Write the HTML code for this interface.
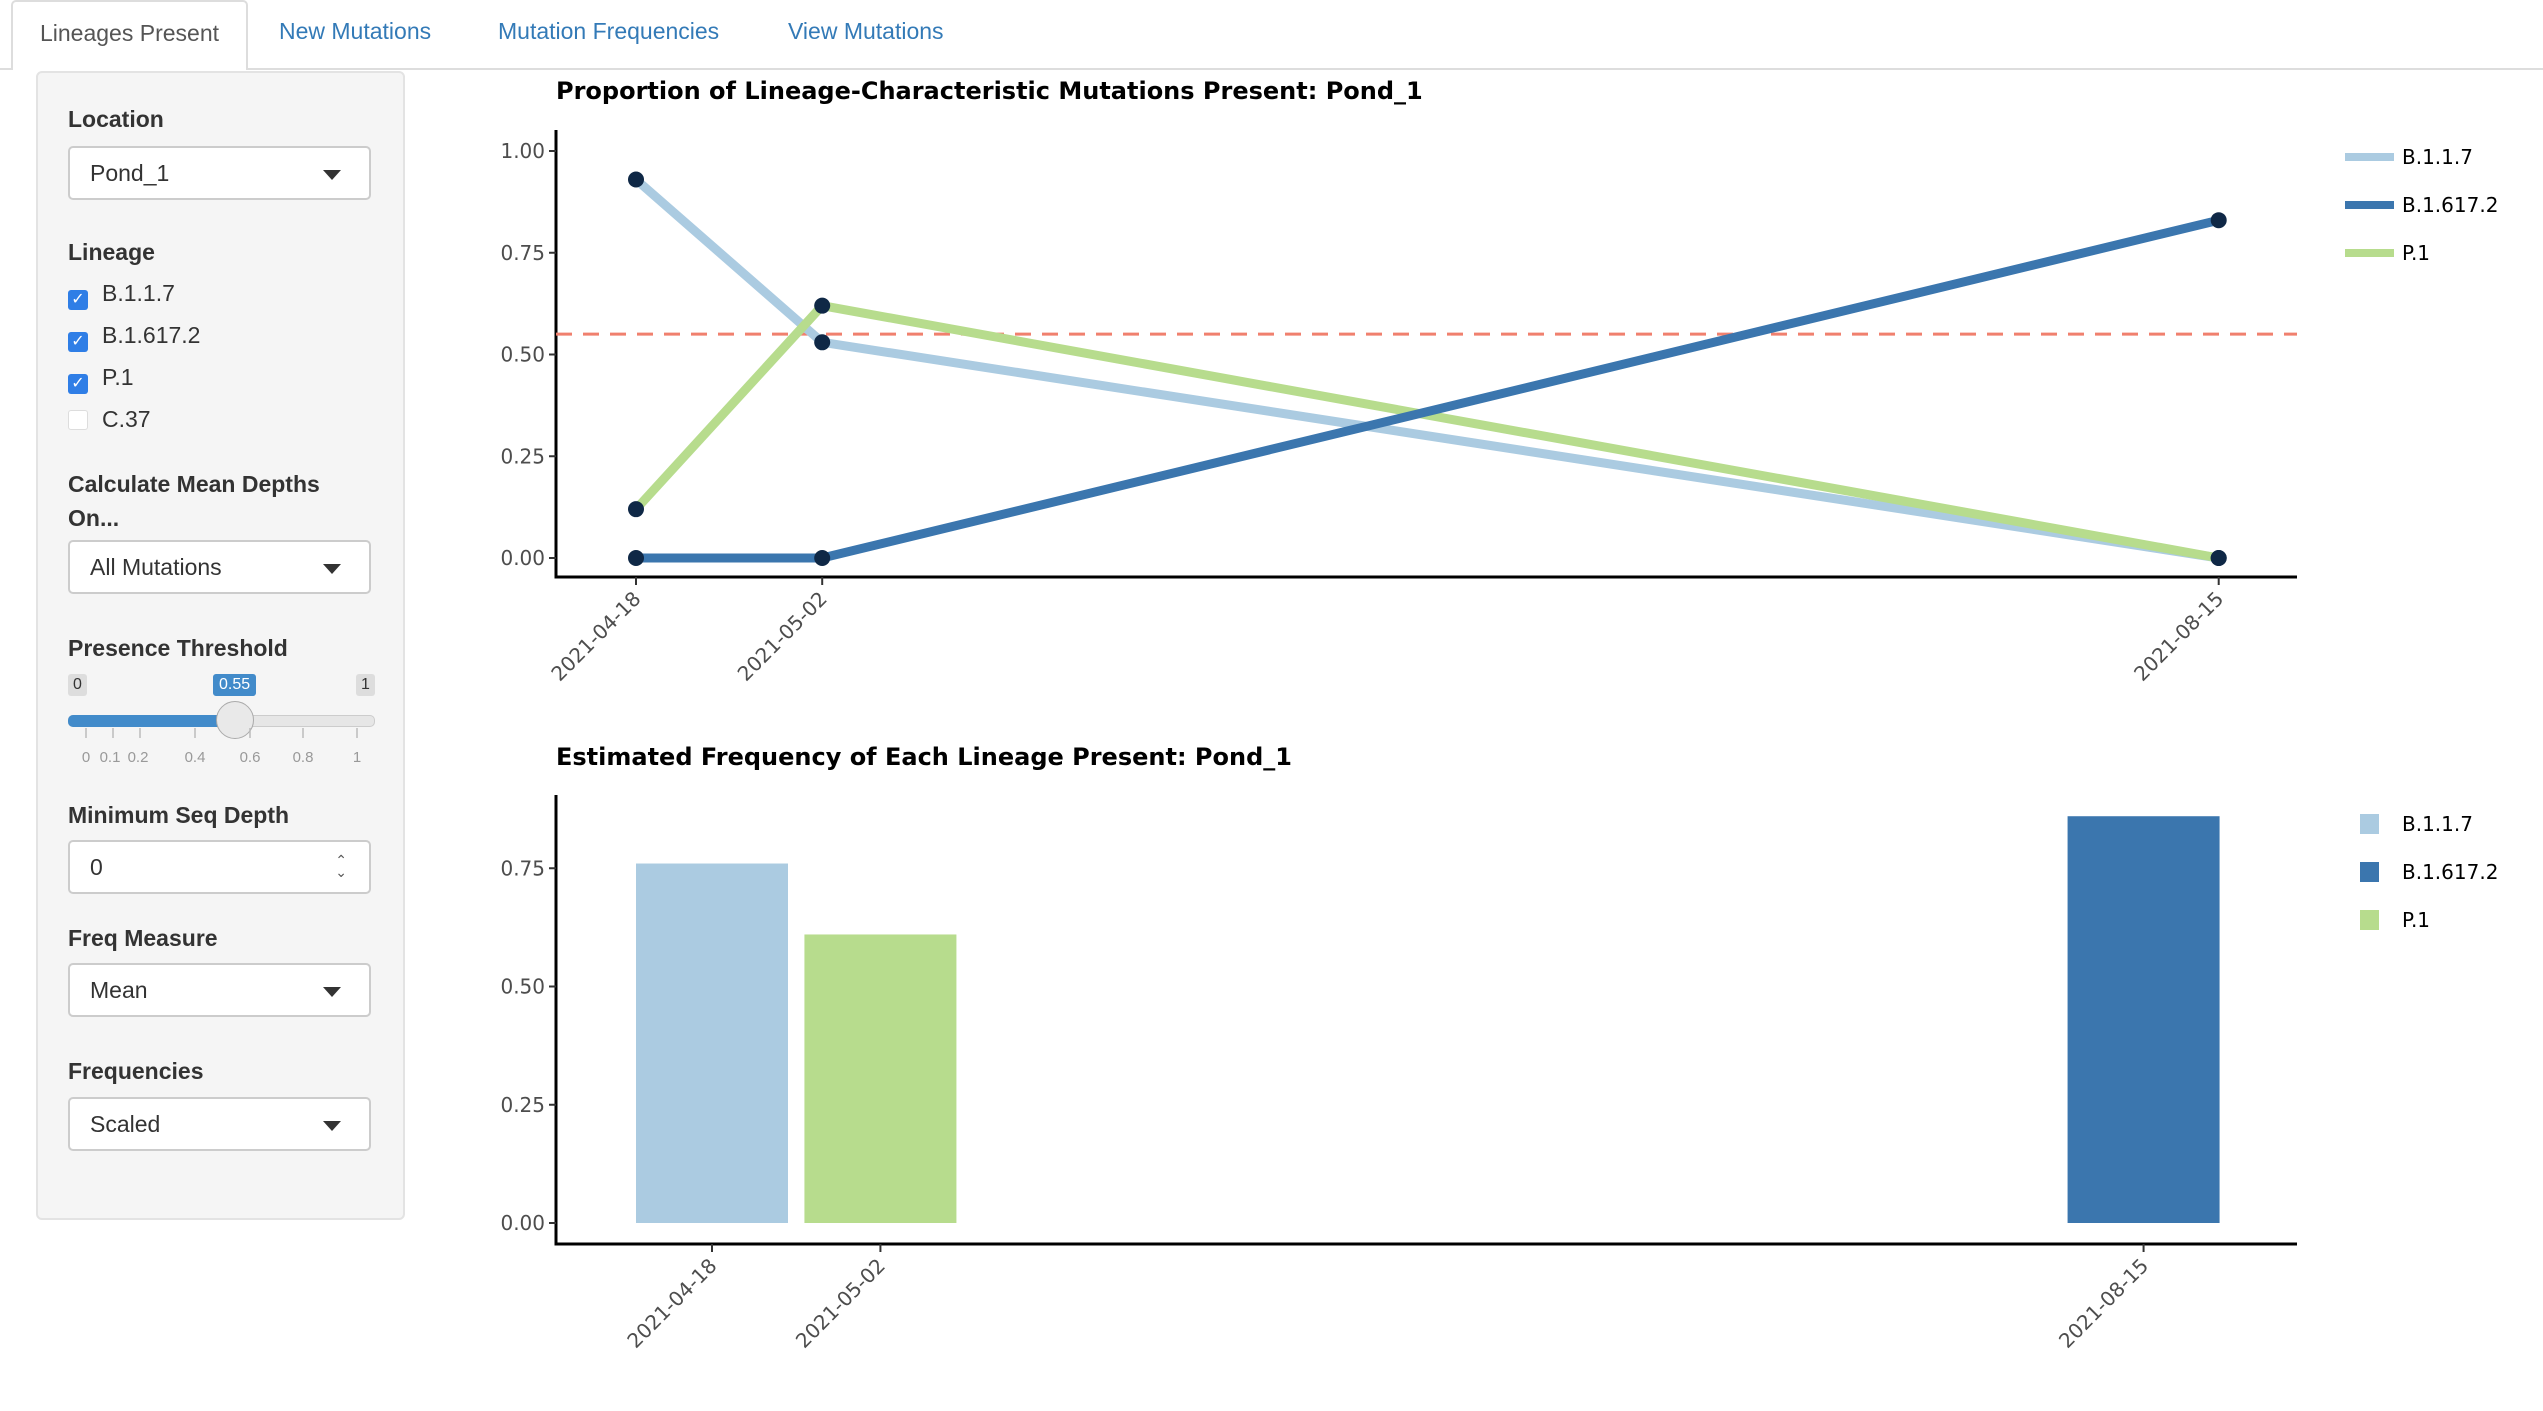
<!DOCTYPE html>
<html><head><meta charset="utf-8">
<style>
body{margin:0;width:2543px;height:1411px;background:#fff;font-family:"Liberation Sans",sans-serif;position:relative;overflow:hidden}
.abs{position:absolute}
.tab{position:absolute;top:14px;font-size:23px;color:#337ab7}
.lbl{position:absolute;left:68px;font-size:23px;font-weight:bold;color:#333}
.sel{position:absolute;left:68px;width:303px;height:54px;border:2px solid #ccc;border-radius:5px;background:#fff;box-sizing:border-box;font-size:23px;color:#333;padding:12px 0 0 20px}
.sel .car{position:absolute;right:28px;top:22px;width:0;height:0;border-left:9px solid transparent;border-right:9px solid transparent;border-top:10px solid #333}
.cb{position:absolute;left:68px;font-size:23px;color:#333}
.cb span.box{display:inline-block;width:20px;height:20px;border-radius:3px;vertical-align:-3px;margin-right:14px;background:#2f7ee6;color:#fff;font-size:16px;line-height:20px;text-align:center}
.cb span.off{background:#fff;border:1px solid #ddd;box-sizing:border-box}
</style></head><body>
<div class="abs" style="left:0;top:68px;width:2543px;height:2px;background:#ddd"></div>
<div class="abs" style="left:11px;top:0;width:237px;height:70px;border:2px solid #ddd;border-bottom:none;border-radius:5px 5px 0 0;background:#fff;box-sizing:border-box;font-size:23px;color:#555;text-align:center;padding-top:18px">Lineages Present</div>
<div class="tab" style="left:279px;top:18px">New Mutations</div>
<div class="tab" style="left:498px;top:18px">Mutation Frequencies</div>
<div class="tab" style="left:788px;top:18px">View Mutations</div>

<div class="abs" style="left:36px;top:71px;width:369px;height:1149px;background:#f5f5f5;border:2px solid #e3e3e3;border-radius:6px;box-sizing:border-box"></div>
<div class="lbl" style="top:106px">Location</div>
<div class="sel" style="top:146px">Pond_1<div class="car"></div></div>
<div class="lbl" style="top:239px">Lineage</div>
<div class="cb" style="top:280px"><span class="box">✓</span>B.1.1.7</div>
<div class="cb" style="top:322px"><span class="box">✓</span>B.1.617.2</div>
<div class="cb" style="top:364px"><span class="box">✓</span>P.1</div>
<div class="cb" style="top:406px"><span class="box off"></span>C.37</div>
<div class="lbl" style="top:467px;line-height:34px">Calculate Mean Depths<br>On...</div>
<div class="sel" style="top:540px">All Mutations<div class="car"></div></div>
<div class="lbl" style="top:635px">Presence Threshold</div>
<div class="abs" style="left:68px;top:674px;background:#ddd;border-radius:3px;font-size:16px;color:#333;padding:2px 5px">0</div>
<div class="abs" style="left:356px;top:674px;background:#ddd;border-radius:3px;font-size:16px;color:#333;padding:2px 5px">1</div>
<div class="abs" style="left:213px;top:674px;background:#428bca;border-radius:3px;font-size:16px;color:#fff;padding:2px 6px">0.55</div>
<div class="abs" style="left:68px;top:715px;width:305px;height:10px;background:#e6e6e6;border-radius:5px;border:1px solid #ccc"></div>
<div class="abs" style="left:68px;top:715px;width:167px;height:12px;background:#428bca;border-radius:5px"></div>
<div class="abs" style="left:216px;top:701px;width:38px;height:38px;border-radius:50%;background:#e9e9e9;border:1px solid #aaa;box-sizing:border-box"></div>
<svg class="abs" style="left:60px;top:728px" width="320" height="45">
<g stroke="#bbb" stroke-width="1.5">
<line x1="26" y1="0" x2="26" y2="10"/><line x1="53" y1="0" x2="53" y2="10"/><line x1="80" y1="0" x2="80" y2="10"/><line x1="135" y1="0" x2="135" y2="10"/><line x1="190" y1="0" x2="190" y2="10"/><line x1="243" y1="0" x2="243" y2="10"/><line x1="297" y1="0" x2="297" y2="10"/>
</g>
<g font-size="15" fill="#999" text-anchor="middle" font-family="Liberation Sans">
<text x="26" y="34">0</text><text x="50" y="34">0.1</text><text x="78" y="34">0.2</text><text x="135" y="34">0.4</text><text x="190" y="34">0.6</text><text x="243" y="34">0.8</text><text x="297" y="34">1</text></g>
</svg>
<div class="lbl" style="top:802px">Minimum Seq Depth</div>
<div class="sel" style="top:840px">0<div class="abs" style="right:22px;top:12px;font-size:14px;line-height:12px;color:#555">⌃<br>⌄</div></div>
<div class="lbl" style="top:925px">Freq Measure</div>
<div class="sel" style="top:963px">Mean<div class="car"></div></div>
<div class="lbl" style="top:1058px">Frequencies</div>
<div class="sel" style="top:1097px">Scaled<div class="car"></div></div>

<svg id="chart" class="abs" style="left:0;top:0" width="2543" height="1411"></svg>
<script>
const dates=["2021-04-18","2021-05-02","2021-08-15"];
const lineages=["B.1.1.7","B.1.617.2","P.1"];
const colors=["#abcbe1","#3b76ae","#b7dc8d"];
const propB117=[0.93,0.53,0.0];
const propB16172=[0.0,0.0,0.83];
const propP1=[0.12,0.62,0.0];
const threshold=0.55;
const barDates=["2021-04-18","2021-05-02","2021-08-15"];
const barLineage=["B.1.1.7","P.1","B.1.617.2"];
const barValues=[0.76,0.61,0.86];
const yTicks1=[0,0.25,0.5,0.75,1];
const yTicks2=[0,0.25,0.5,0.75];

const NS="http://www.w3.org/2000/svg";
const svg=document.getElementById('chart');
function mk(t,a,p){const e=document.createElementNS(NS,t);for(const k in a)e.setAttribute(k,a[k]);(p||svg).appendChild(e);return e;}
function day(d){return (Date.parse(d)-Date.parse("2021-04-18"))/86400000;}
const x1=d=>636+day(d)*13.3;
const y1=v=>558-v*407;
const x2=d=>712+day(d)*12.03;
const y2=v=>1223-v*473;

let t=mk('text',{x:556,y:99,'font-size':24,'font-weight':'bold','font-family':'DejaVu Sans, sans-serif',fill:'#000'});
t.textContent="Proportion of Lineage-Characteristic Mutations Present: Pond_1";


let ax=mk('path',{d:'M556 130 V577 H2297',stroke:'#000','stroke-width':3,fill:'none'});


yTicks1.forEach(v=>{
  mk('line',{x1:549,x2:556,y1:y1(v),y2:y1(v),stroke:'#333','stroke-width':2});
  const e=mk('text',{x:545,y:y1(v)+7,'font-size':20,'text-anchor':'end',fill:'#4d4d4d','font-family':'DejaVu Sans, sans-serif'});
  e.textContent=v.toFixed(2);
  
  
});
dates.forEach(d=>{
  const x=x1(d);
  mk('line',{x1:x,x2:x,y1:577,y2:585,stroke:'#333','stroke-width':2});
  const e=mk('text',{x:x+6,y:600,'font-size':20,'text-anchor':'end',fill:'#4d4d4d','font-family':'DejaVu Sans, sans-serif',transform:`rotate(-45 ${x+6} 600)`});
  e.textContent=d;
  
  
});
const th=mk('line',{x1:556,x2:2297,y1:y1(threshold),y2:y1(threshold),stroke:'#f0806e','stroke-width':3,'stroke-dasharray':'16 11'});


const series=[propB117,propB16172,propP1];
const order=[0,2,1];
order.forEach(i=>{
  const pts=dates.map((d,j)=>x1(d)+','+y1(series[i][j])).join(' ');
  const l=mk('polyline',{points:pts,fill:'none',stroke:colors[i],'stroke-width':9});
  
  
});
series.forEach((s,i)=>dates.forEach((d,j)=>{
  const c=mk('circle',{cx:x1(d),cy:y1(s[j]),r:8,fill:'#0f2846'});
  
  
}));
lineages.forEach((n,i)=>{
  const y=157+i*48;
  const l=mk('line',{x1:2345,x2:2394,y1:y,y2:y,stroke:colors[i],'stroke-width':8});
  
  
  const e=mk('text',{x:2402,y:y+7,'font-size':20,fill:'#000','font-family':'DejaVu Sans, sans-serif'});
  e.textContent=n;
  
  
});

t=mk('text',{x:556,y:765,'font-size':24,'font-weight':'bold','font-family':'DejaVu Sans, sans-serif',fill:'#000'});
t.textContent="Estimated Frequency of Each Lineage Present: Pond_1";


ax=mk('path',{d:'M556 795 V1244 H2297',stroke:'#000','stroke-width':3,fill:'none'});


yTicks2.forEach(v=>{
  mk('line',{x1:549,x2:556,y1:y2(v),y2:y2(v),stroke:'#333','stroke-width':2});
  const e=mk('text',{x:545,y:y2(v)+7,'font-size':20,'text-anchor':'end',fill:'#4d4d4d','font-family':'DejaVu Sans, sans-serif'});
  e.textContent=v.toFixed(2);
  
  
});
dates.forEach(d=>{
  const x=x2(d);
  mk('line',{x1:x,x2:x,y1:1244,y2:1252,stroke:'#333','stroke-width':2});
  const e=mk('text',{x:x+6,y:1267,'font-size':20,'text-anchor':'end',fill:'#4d4d4d','font-family':'DejaVu Sans, sans-serif',transform:`rotate(-45 ${x+6} 1267)`});
  e.textContent=d;
  
  
});
const bw=152;
barValues.forEach((v,i)=>{
  const x=x2(barDates[i]);
  const r=mk('rect',{x:x-bw/2,y:y2(v),width:bw,height:y2(0)-y2(v),fill:colors[lineages.indexOf(barLineage[i])]});
  
  
});
lineages.forEach((n,i)=>{
  const y=824+i*48;
  const r=mk('rect',{x:2360,y:y-10,width:19,height:20,fill:colors[i]});
  
  
  const e=mk('text',{x:2402,y:y+7,'font-size':20,fill:'#000','font-family':'DejaVu Sans, sans-serif'});
  e.textContent=n;
  
  
});
</script>
</body></html>
